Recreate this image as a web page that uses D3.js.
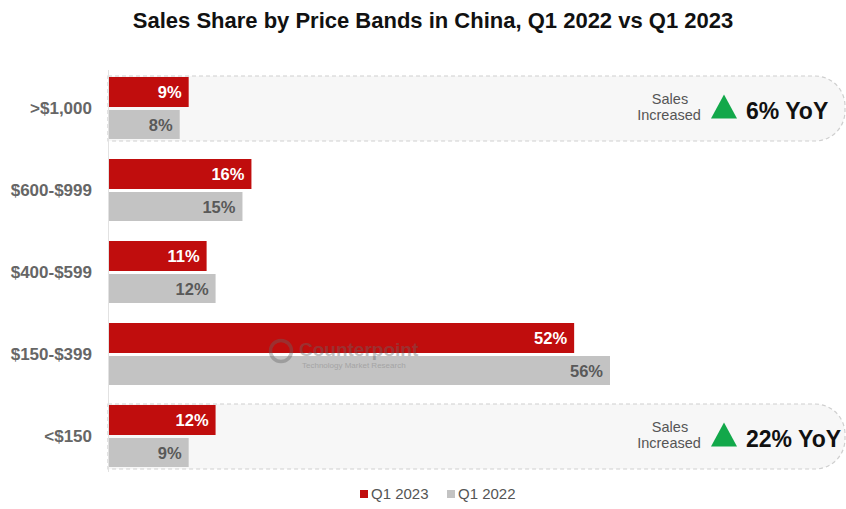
<!DOCTYPE html>
<html>
<head>
<meta charset="utf-8">
<script src="https://cdn.jsdelivr.net/npm/d3@7"></script>
<style>
  html, body { margin: 0; padding: 0; background: #fff; }
  svg { display: block; font-family: "Liberation Sans", Arial, sans-serif; }
</style>
</head>
<body>
<svg id="chart" width="846" height="509"></svg>
<script>
// Price bands, top to bottom
const bands = [">$1,000", "$600-$999", "$400-$599", "$150-$399", "<$150"];
// Sales share (%) per band
const share2023 = [9, 16, 11, 52, 12];
const share2022 = [8, 15, 12, 56, 9];
const seriesNames = ["Q1 2023", "Q1 2022"];
// YoY callouts
const callouts = [
  { band: ">$1,000", growth: "6% YoY" },
  { band: "<$150", growth: "22% YoY" }
];

const svg = d3.select("#chart");
const W = 846, H = 509;
const plotLeft = 108, plotTop = 77;
const rowStep = 82, barH = 30, barGap = 3;

const colors = { "Q1 2023": "#c00d0d", "Q1 2022": "#c3c3c3" };

const x = d3.scaleLinear().domain([0, 56]).range([plotLeft, 610]);
const y = d3.scaleBand().domain(bands).range([plotTop, plotTop + rowStep * bands.length]).paddingInner(0).paddingOuter(0);

// Title
svg.append("text")
  .attr("x", W / 2 + 10).attr("y", 28)
  .attr("text-anchor", "middle")
  .attr("font-size", 22).attr("font-weight", "bold").attr("fill", "#111")
  .text("Sales Share by Price Bands in China, Q1 2022 vs Q1 2023");

// Callout backdrops (drawn behind bars)
callouts.forEach(c => {
  const y0 = y(c.band) - 1;
  const h = barH * 2 + barGap + 2;
  const r = 30, x0 = plotLeft, x1 = W - 1;
  svg.append("path")
    .attr("d", `M${x0},${y0} H${x1 - r} A${r},${r} 0 0 1 ${x1},${y0 + r} V${y0 + h - r} A${r},${r} 0 0 1 ${x1 - r},${y0 + h} H${x0} Z`)
    .attr("fill", "#f7f7f7")
    .attr("stroke", "#cfcfcf")
    .attr("stroke-width", 1.2)
    .attr("stroke-dasharray", "4,3");
});

// Bars
const rows = bands.map((b, i) => ({ band: b, v23: share2023[i], v22: share2022[i] }));
const g = svg.append("g");

rows.forEach(d => {
  const y0 = y(d.band);
  // Q1 2023
  g.append("rect")
    .attr("x", x(0)).attr("y", y0)
    .attr("width", x(d.v23) - x(0)).attr("height", barH)
    .attr("fill", colors["Q1 2023"]);
  g.append("text")
    .attr("x", x(d.v23) - 7).attr("y", y0 + barH / 2 + 6)
    .attr("text-anchor", "end")
    .attr("font-size", 16.5).attr("font-weight", "bold").attr("fill", "#fff")
    .text(d.v23 + "%");
  // Q1 2022
  const y1 = y0 + barH + barGap;
  g.append("rect")
    .attr("x", x(0)).attr("y", y1)
    .attr("width", x(d.v22) - x(0)).attr("height", barH - 1)
    .attr("fill", colors["Q1 2022"]);
  g.append("text")
    .attr("x", x(d.v22) - 7).attr("y", y1 + (barH - 1) / 2 + 6)
    .attr("text-anchor", "end")
    .attr("font-size", 16.5).attr("font-weight", "bold").attr("fill", "#595959")
    .text(d.v22 + "%");
});

// Watermark over the bars
const wm = svg.append("g").attr("opacity", 0.4);
wm.append("circle").attr("cx", 281).attr("cy", 351).attr("r", 10.5)
  .attr("fill", "none").attr("stroke", "#666").attr("stroke-width", 3.5);
wm.append("text").attr("x", 299).attr("y", 356)
  .attr("font-size", 19).attr("font-weight", "bold").attr("fill", "#666")
  .text("Counterpoint");
wm.append("text").attr("x", 302).attr("y", 368)
  .attr("font-size", 8).attr("fill", "#777")
  .text("Technology Market Research");

// Category axis: labels sit at the seam between the two bars of each band
const yAxis = d3.axisLeft(y).tickSize(0).tickPadding(16);
const ax = svg.append("g").attr("transform", `translate(${plotLeft},0)`).call(yAxis);
ax.select(".domain").remove();
ax.selectAll("text")
  .attr("font-size", 17).attr("font-weight", "bold").attr("fill", "#666")
  .attr("font-family", "Liberation Sans, Arial, sans-serif")
  .attr("dy", "0.35em")
  .attr("transform", `translate(0,${barH + barGap / 2 - y.bandwidth() / 2})`);
svg.append("line")
  .attr("x1", plotLeft + 0.5).attr("x2", plotLeft + 0.5)
  .attr("y1", 70).attr("y2", 472)
  .attr("stroke", "#e2e2e2").attr("stroke-width", 1);

// Callout texts
callouts.forEach(c => {
  const cy = y(c.band) + barH + barGap / 2;
  const t = svg.append("text").attr("text-anchor", "middle")
    .attr("font-size", 14.5).attr("fill", "#555");
  t.append("tspan").attr("x", 670).attr("y", cy - 5).text("Sales");
  t.append("tspan").attr("x", 669).attr("y", cy + 11).text("Increased");
  svg.append("path")
    .attr("d", `M${724},${cy - 14} L${737},${cy + 10} L${711},${cy + 10} Z`)
    .attr("fill", "#12a84a");
  svg.append("text")
    .attr("x", 746).attr("y", cy + 10)
    .attr("font-size", 23).attr("font-weight", "bold").attr("fill", "#111")
    .text(c.growth);
});

// Legend
const lg = svg.append("g").attr("transform", "translate(360,499)");
seriesNames.forEach((n, i) => {
  const gx = i * 87;
  lg.append("rect").attr("x", gx).attr("y", -9).attr("width", 8).attr("height", 8)
    .attr("fill", colors[n]);
  lg.append("text").attr("x", gx + 11).attr("y", 0)
    .attr("font-size", 15).attr("fill", "#555").text(n);
});
</script>
</body>
</html>
